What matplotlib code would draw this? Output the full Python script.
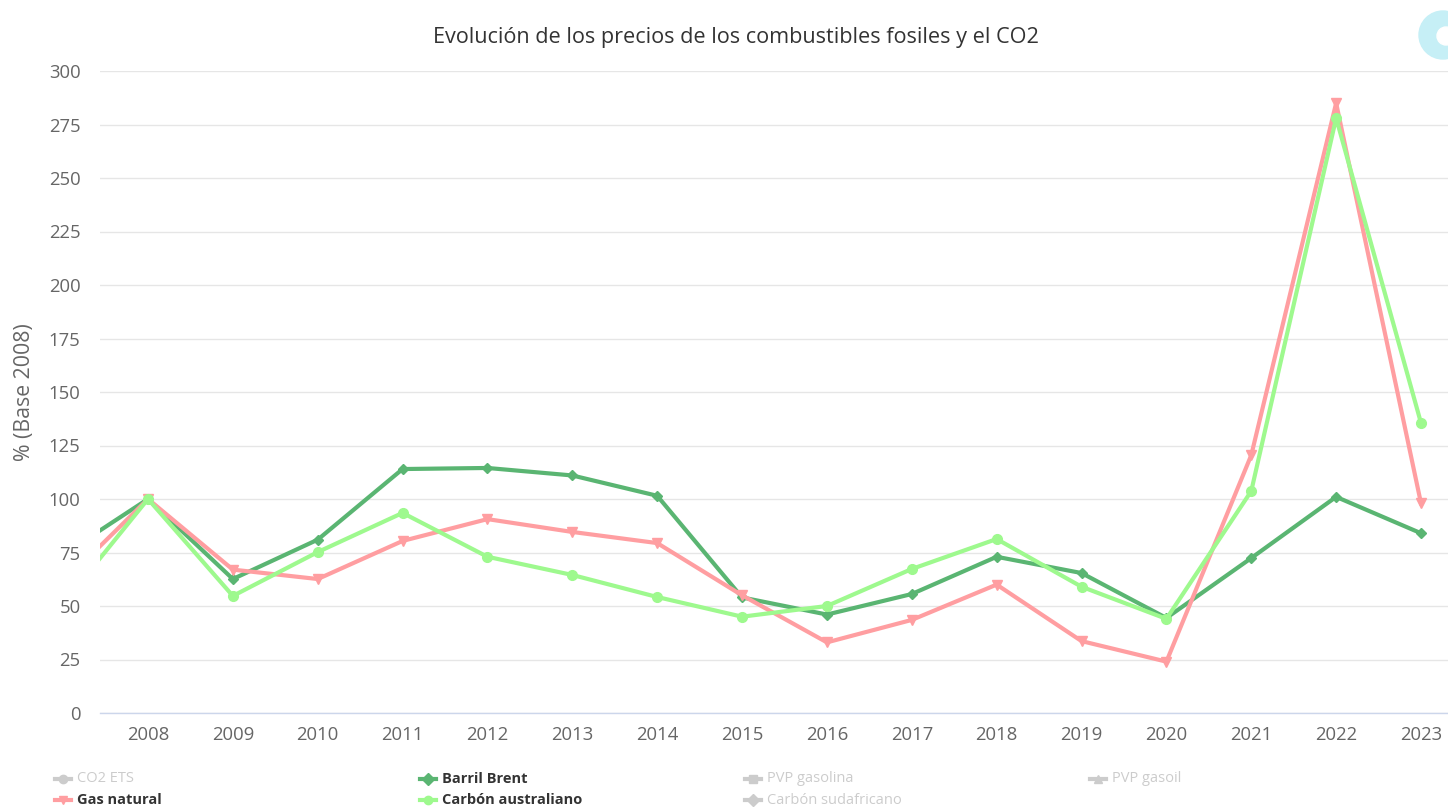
import numpy as np
import matplotlib.pyplot as plt
from matplotlib.lines import Line2D
from matplotlib.patches import Ellipse

plt.rcParams['font.family'] = ['Open Sans', 'DejaVu Sans']

# years (2007 lies just outside the visible range, the lines run in from the left edge)
years = [2007, 2008, 2009, 2010, 2011, 2012, 2013, 2014, 2015,
         2016, 2017, 2018, 2019, 2020, 2021, 2022, 2023]

brent = [74, 100, 62.6, 81, 114, 114.5, 111, 101.5, 54,
         46, 55.6, 73, 65.4, 44.4, 72.4, 101, 84]
gas = [61, 100, 67, 62.6, 80.4, 90.6, 84.6, 79.4, 55,
       33, 43.5, 60, 33.6, 24, 120.5, 285, 98]
coal = [51, 100, 54.7, 75.2, 93.5, 73, 64.5, 54.2, 45,
        50, 67.3, 81.3, 59, 44, 103.7, 278, 135.5]

yticks = [0, 25, 50, 75, 100, 125, 150, 175, 200, 225, 250, 275, 300]
xticks = list(range(2008, 2024))

legend_items = [
    # label, colour, marker, active
    ("CO2 ETS", '#cccccc', 'o', False),
    ("Barril Brent", '#5ab572', 'D', True),
    ("PVP gasolina", '#cccccc', 's', False),
    ("PVP gasoil", '#cccccc', '^', False),
    ("Gas natural", '#ff9ea1', 'v', True),
    ("Carbón australiano", '#9ef98e', 'o', True),
    ("Carbón sudafricano", '#cccccc', 'D', False),
]

W, H = 1448, 808
fig = plt.figure(figsize=(W / 100, H / 100), dpi=100)
ax = fig.add_axes([100 / W, 95 / H, (W - 100) / W, 642 / H])

ax.plot(years, brent, color='#5ab572', lw=3, marker='D', ms=5, zorder=3)
ax.plot(years, gas, color='#ff9ea1', lw=3, marker='v', ms=7, zorder=3)
ax.plot(years, coal, color='#9ef98e', lw=3, marker='o', ms=7, zorder=4)

ax.set_xlim(2008 - 48 / 84.87, 2023 + 27 / 84.87)
ax.set_ylim(0, 300)
ax.set_yticks(yticks)
ax.set_xticks(xticks)
ax.tick_params(axis='y', length=0, labelsize=13.3, labelcolor='#666666', pad=14)
ax.tick_params(axis='x', length=0, labelsize=13.3, labelcolor='#666666', pad=9)
ax.grid(axis='y', color='#e6e6e6', lw=1)
ax.set_axisbelow(True)
for s in ['top', 'right', 'left']:
    ax.spines[s].set_visible(False)
ax.spines['bottom'].set_color('#ccd6eb')
ax.spines['bottom'].set_linewidth(1)
ax.set_ylabel('% (Base 2008)', fontsize=15.3, color='#666666', labelpad=10)

fig.text(736 / W, 1 - 37 / H, 'Evolución de los precios de los combustibles fosiles y el CO2',
         ha='center', va='center', fontsize=15.6, color='#333333')

# logo in the top right corner
fig.add_artist(Ellipse((1443 / W, 1 - 35 / H), 48 / W, 48 / H, transform=fig.transFigure,
                       color='#c6eff6', zorder=5))
fig.add_artist(Ellipse((1446 / W, 1 - 36 / H), 18 / W, 18 / H, transform=fig.transFigure,
                       color='white', zorder=6))

# legend, 4 columns x 2 rows
col_x = [55, 420, 745, 1090]
row_y = [779, 800]
for i, (label, color, marker, active) in enumerate(legend_items):
    x0 = col_x[i % 4]
    y0 = 1 - row_y[i // 4] / H
    fig.add_artist(Line2D([x0 / W, (x0 + 16) / W], [y0, y0], transform=fig.transFigure,
                          color=color, lw=3))
    fig.add_artist(Line2D([(x0 + 8) / W], [y0], transform=fig.transFigure,
                          color=color, marker=marker, ms=6, lw=0))
    fig.text((x0 + 22) / W, y0, label, ha='left', va='center', fontsize=10.5,
             color='#333333' if active else '#cccccc',
             fontweight='bold' if active else 'normal',
             family=['Liberation Sans Narrow', 'Open Sans', 'DejaVu Sans'])

fig.savefig('out.png', dpi=100)
